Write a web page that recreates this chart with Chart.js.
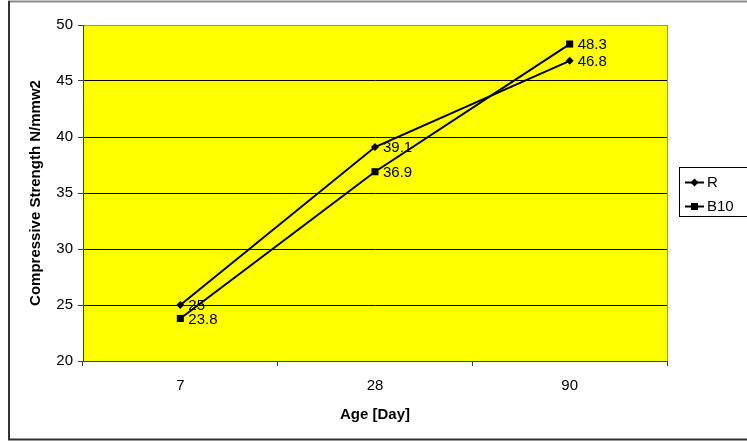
<!DOCTYPE html>
<html>
<head>
<meta charset="utf-8">
<script src="https://cdn.jsdelivr.net/npm/chart.js@4/dist/chart.umd.min.js"></script>
<style>
  html, body { margin: 0; padding: 0; background: #fff; }
  #wrap { width: 747px; height: 441px; }
</style>
</head>
<body>
<div id="wrap"><canvas id="c" width="747" height="441"></canvas></div>
<script>
// Age of specimens (days)
const ages = ['7', '28', '90'];
// Compressive strength per mix
const seriesR = [25, 39.1, 46.8];
const seriesB10 = [23.8, 36.9, 48.3];
// Y-axis range
const yMin = 20, yMax = 50, yStep = 5;

const FONT = "'Liberation Sans', Arial, sans-serif";

// Page frame, yellow plot background and the thin grey plot border
const framePlugin = {
  id: 'frame',
  beforeDraw(chart) {
    const { ctx, chartArea: a } = chart;
    ctx.save();
    ctx.fillStyle = '#fff';
    ctx.fillRect(0, 0, chart.width, chart.height);
    ctx.fillStyle = '#ffff00';
    ctx.fillRect(a.left, a.top, a.right - a.left, a.bottom - a.top);
    ctx.strokeStyle = '#909090';
    ctx.lineWidth = 1;
    ctx.strokeRect(Math.round(a.left) + 0.5, Math.round(a.top) + 0.5,
                   Math.round(a.right - a.left), Math.round(a.bottom - a.top));
    // outer frame
    ctx.lineWidth = 2;
    ctx.strokeStyle = '#8a8a8a';
    ctx.beginPath(); ctx.moveTo(8, 1.5); ctx.lineTo(chart.width + 2, 1.5); ctx.stroke();
    ctx.strokeStyle = '#333';
    ctx.beginPath(); ctx.moveTo(9, 1); ctx.lineTo(9, 439.5); ctx.lineTo(chart.width + 2, 439.5); ctx.stroke();
    ctx.restore();
  }
};

function drawMarker(ctx, style, x, y) {
  ctx.beginPath();
  if (style === 'rectRot') {
    const r = 4;
    ctx.moveTo(x - r, y); ctx.lineTo(x, y - r); ctx.lineTo(x + r, y); ctx.lineTo(x, y + r);
    ctx.closePath();
  } else {
    ctx.rect(x - 3.5, y - 3.5, 7, 7);
  }
  ctx.fill();
}

// Value labels to the right of each point, plus the boxed legend
const labelPlugin = {
  id: 'labels',
  afterDatasetsDraw(chart) {
    const { ctx } = chart;
    ctx.save();
    ctx.font = '15px ' + FONT;
    ctx.fillStyle = '#000';
    ctx.textAlign = 'left';
    ctx.textBaseline = 'middle';
    chart.data.datasets.forEach((ds, i) => {
      const meta = chart.getDatasetMeta(i);
      meta.data.forEach((pt, j) => {
        ctx.fillText(String(ds.data[j]), pt.x + 8, pt.y + 1);
      });
    });
    // legend
    const lx = 679.5, ly = 167.5, lw = 80, lh = 49;
    ctx.fillStyle = '#fff';
    ctx.fillRect(lx, ly, lw, lh);
    ctx.strokeStyle = '#000';
    ctx.lineWidth = 1;
    ctx.strokeRect(lx, ly, lw, lh);
    chart.data.datasets.forEach((ds, i) => {
      const y = 182.5 + i * 24;
      ctx.strokeStyle = '#000';
      ctx.lineWidth = 2;
      ctx.beginPath(); ctx.moveTo(685, y); ctx.lineTo(704, y); ctx.stroke();
      ctx.fillStyle = '#000';
      drawMarker(ctx, ds.pointStyle, 694.5, y);
      ctx.fillText(ds.label, 707, y + 0.5);
    });
    ctx.restore();
  }
};

new Chart(document.getElementById('c'), {
  type: 'line',
  data: {
    labels: ages,
    datasets: [
      { label: 'R', data: seriesR, pointStyle: 'rectRot', pointRadius: 4 },
      { label: 'B10', data: seriesB10, pointStyle: 'rect', pointRadius: 5 }
    ]
  },
  options: {
    responsive: false,
    animation: false,
    devicePixelRatio: 1,
    layout: { padding: { left: 0, top: 25, right: 80, bottom: 0 } },
    elements: {
      line: { borderColor: '#000', borderWidth: 2, tension: 0, fill: false },
      point: { backgroundColor: '#000', borderColor: '#000', borderWidth: 0, hoverRadius: 4 }
    },
    plugins: {
      legend: { display: false },
      tooltip: { enabled: false }
    },
    scales: {
      x: {
        offset: true,
        grid: { offset: true, drawOnChartArea: false, drawTicks: true, tickLength: 5, tickColor: '#404040' },
        border: { color: '#404040', width: 1 },
        ticks: { color: '#000', font: { family: FONT, size: 15 }, padding: 11 },
        title: { display: true, text: 'Age [Day]', color: '#000',
                 font: { family: FONT, size: 15, weight: 'bold', lineHeight: 1.2 },
                 padding: { top: 0, bottom: 17.5 } },
        afterFit(scale) { scale.height = 80; }
      },
      y: {
        min: yMin, max: yMax,
        ticks: { stepSize: yStep, color: '#000', font: { family: FONT, size: 15 }, padding: 5 },
        grid: {
          color: ctx => (ctx.tick && ctx.tick.value === yMax) ? '#909090' : '#000',
          tickColor: '#404040', tickLength: 5, lineWidth: 1
        },
        border: { color: '#404040', width: 1 },
        title: { display: true, text: 'Compressive Strength N/mmw2', color: '#000',
                 font: { family: FONT, size: 15, weight: 'bold', lineHeight: 1.2 },
                 padding: { top: 26.5, bottom: 0 } },
        afterFit(scale) { scale.width = 83; }
      }
    }
  },
  plugins: [framePlugin, labelPlugin]
});
</script>
</body>
</html>
